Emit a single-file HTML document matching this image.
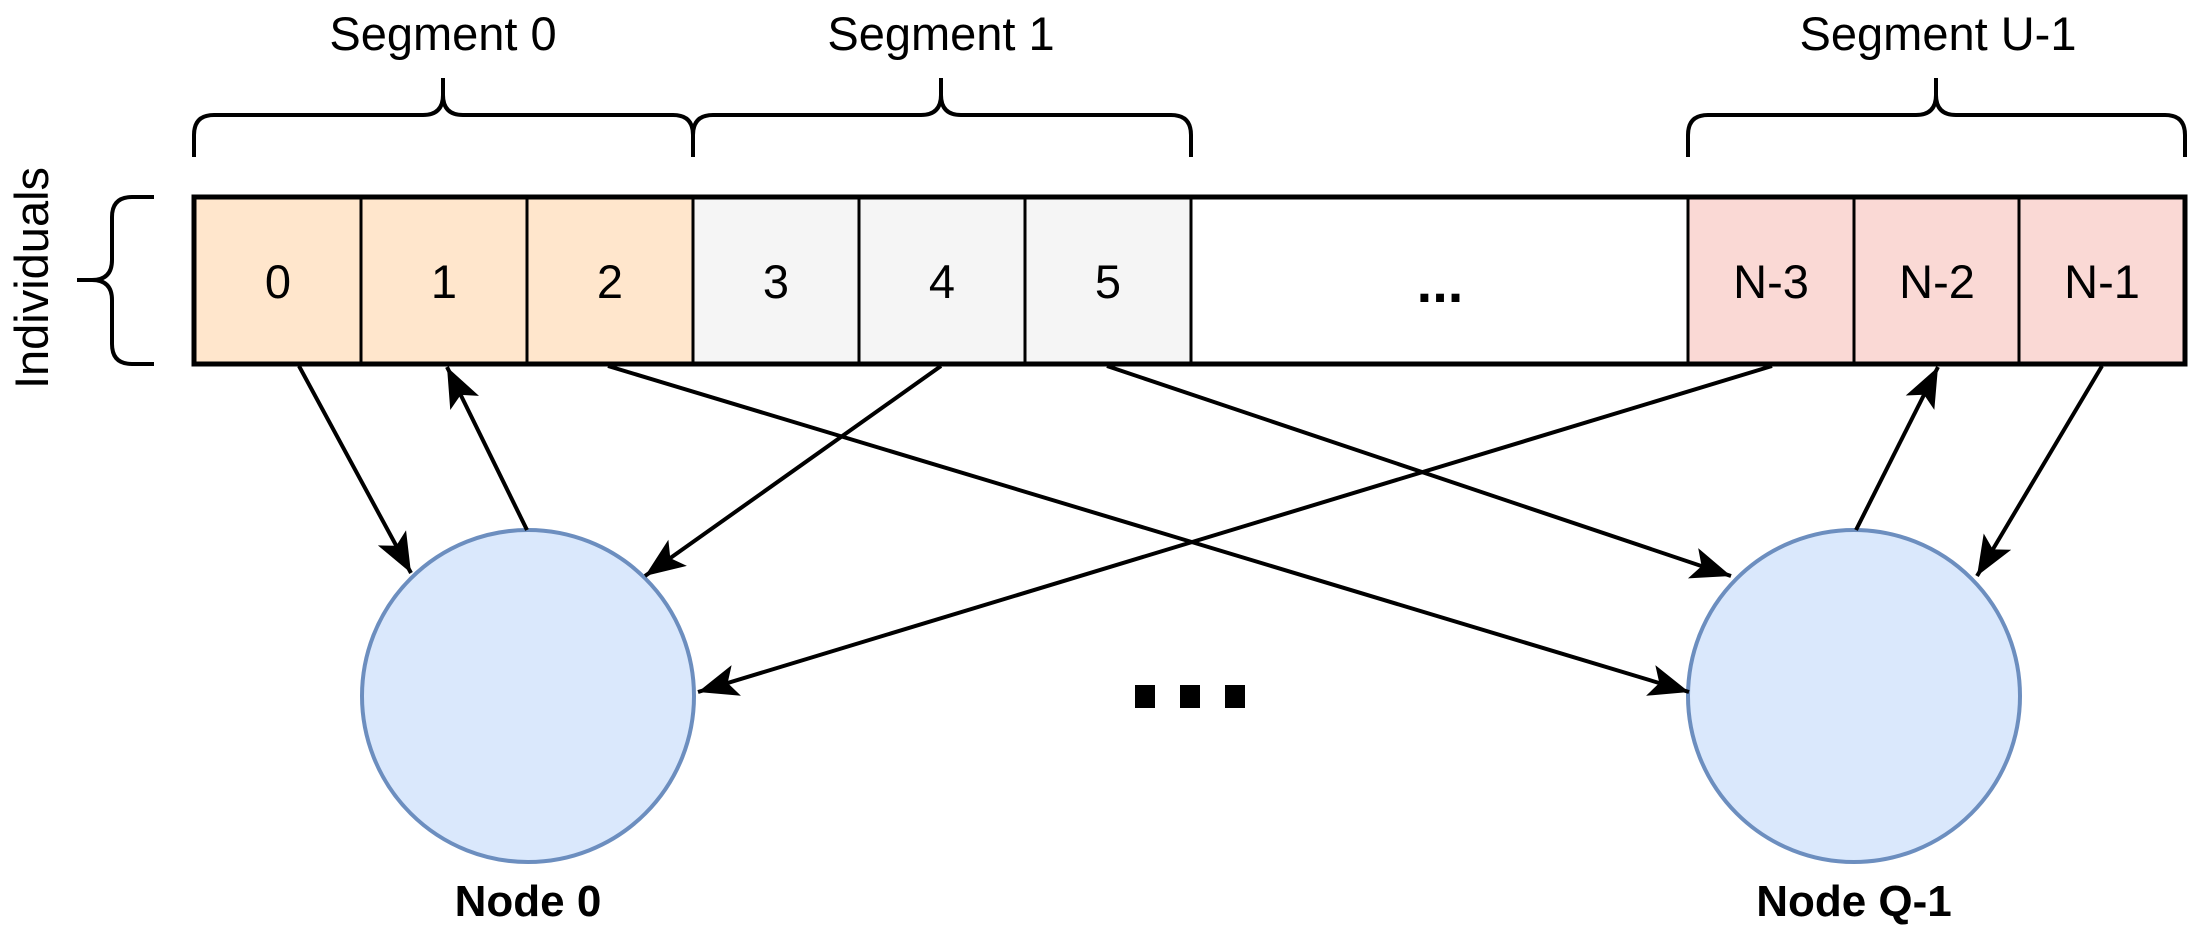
<!DOCTYPE html>
<html><head><meta charset="utf-8"><style>
html,body{margin:0;padding:0;background:#fff;}
svg{display:block;}
text{font-family:"Liberation Sans",Arial,sans-serif;}
</style></head><body>
<svg width="2202" height="937" viewBox="0 0 2202 937" xmlns="http://www.w3.org/2000/svg">
<defs>
<marker id="a" markerUnits="userSpaceOnUse" markerWidth="44" markerHeight="38" viewBox="0 0 44 38" refX="40" refY="19" orient="auto">
<path d="M0,3 L40,19 L0,35 L9,19 z" fill="#000"/>
</marker>
</defs>
<rect x="194" y="197" width="499" height="167" fill="#ffe6cc"/>
<rect x="693" y="197" width="498" height="167" fill="#f5f5f5"/>
<rect x="1688" y="197" width="497" height="167" fill="#fad9d5"/>
<g stroke="#000" stroke-width="3">
<line x1="361" y1="197" x2="361" y2="364"/>
<line x1="527" y1="197" x2="527" y2="364"/>
<line x1="693" y1="197" x2="693" y2="364"/>
<line x1="859" y1="197" x2="859" y2="364"/>
<line x1="1025" y1="197" x2="1025" y2="364"/>
<line x1="1191" y1="197" x2="1191" y2="364"/>
<line x1="1688" y1="197" x2="1688" y2="364"/>
<line x1="1854" y1="197" x2="1854" y2="364"/>
<line x1="2019" y1="197" x2="2019" y2="364"/>
</g>
<rect x="194" y="197" width="1991" height="167" fill="none" stroke="#000" stroke-width="5"/>
<g font-size="47" text-anchor="middle" fill="#000">
<text x="278" y="298">0</text>
<text x="444" y="298">1</text>
<text x="610" y="298">2</text>
<text x="776" y="298">3</text>
<text x="942" y="298">4</text>
<text x="1108" y="298">5</text>
<text x="1771" y="298">N-3</text>
<text x="1937" y="298">N-2</text>
<text x="2102" y="298">N-1</text>
<text x="443" y="50">Segment 0</text>
<text x="941" y="50">Segment 1</text>
<text x="1938" y="50">Segment U-1</text>
<text transform="translate(48,278) rotate(-90)">Individuals</text>
</g>
<text x="1440" y="302" font-size="56" font-weight="bold" text-anchor="middle">...</text>
<g fill="none" stroke="#000" stroke-width="4">
<path d="M194,157 L194,135 Q194,115 214,115 L423,115 Q443,115 443,95 L443,78 M443,95 Q443,115 463,115 L673,115 Q693,115 693,135 L693,157"/>
<path d="M693,157 L693,135 Q693,115 713,115 L921,115 Q941,115 941,95 L941,78 M941,95 Q941,115 961,115 L1171,115 Q1191,115 1191,135 L1191,157"/>
<path d="M1688,157 L1688,135 Q1688,115 1708,115 L1916,115 Q1936,115 1936,95 L1936,78 M1936,95 Q1936,115 1956,115 L2165,115 Q2185,115 2185,135 L2185,157"/>
<path d="M154,197 L132,197 Q112,197 112,217 L112,260 Q112,280 92,280 L77,280 M92,280 Q112,280 112,300 L112,344 Q112,364 132,364 L154,364"/>
</g>
<circle cx="528" cy="696" r="166" fill="#dae8fc" stroke="#6c8ebf" stroke-width="4"/>
<circle cx="1854" cy="696" r="166" fill="#dae8fc" stroke="#6c8ebf" stroke-width="4"/>
<g font-size="44" font-weight="bold" text-anchor="middle">
<text x="528" y="916">Node 0</text>
<text x="1854" y="916">Node Q-1</text>
</g>
<g fill="#000">
<rect x="1135" y="685" width="20" height="23"/>
<rect x="1180" y="685" width="20" height="23"/>
<rect x="1225" y="685" width="20" height="23"/>
</g>
<g stroke="#000" stroke-width="4" fill="none" marker-end="url(#a)">
<line x1="299" y1="366" x2="411" y2="573"/>
<line x1="527" y1="530" x2="447" y2="367"/>
<line x1="608" y1="366" x2="1689" y2="692"/>
<line x1="941" y1="366" x2="645" y2="576"/>
<line x1="1107" y1="366" x2="1731" y2="576"/>
<line x1="1772" y1="366" x2="698" y2="692"/>
<line x1="1856" y1="530" x2="1938" y2="367"/>
<line x1="2102" y1="366" x2="1977" y2="576"/>
</g>
</svg>
</body></html>
